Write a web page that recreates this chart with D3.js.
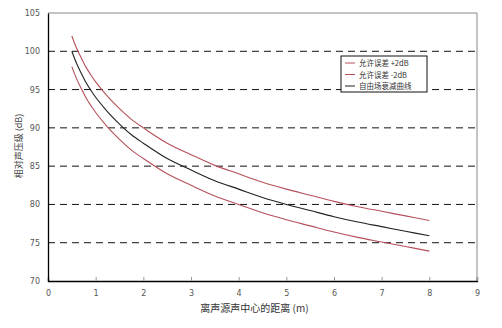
<!DOCTYPE html>
<html>
<head>
<meta charset="utf-8">
<script src="https://cdn.jsdelivr.net/npm/d3@7"></script>
<style>
  body { margin: 0; background: #fff; }
  svg { display: block; }
</style>
</head>
<body>
<div id="chart"></div>
<script>
// 距离 (m)
const distances = [0.5, 0.6, 0.7, 0.8, 0.9, 1, 1.25, 1.5, 1.75, 2, 2.5, 3, 3.5, 4, 4.5, 5, 5.5, 6, 6.5, 7, 7.5, 8];
// 自由场衰减曲线 (dB)
const freeField = [100.0, 98.4, 97.1, 95.9, 94.9, 94.0, 92.1, 90.5, 89.1, 88.0, 86.0, 84.5, 83.1, 82.0, 80.9, 80.0, 79.2, 78.4, 77.7, 77.1, 76.5, 75.9];
// 允许误差 +2dB
const upperLimit = [102.0, 100.4, 99.1, 97.9, 96.9, 96.0, 94.1, 92.5, 91.1, 90.0, 88.0, 86.5, 85.1, 84.0, 82.9, 82.0, 81.2, 80.4, 79.7, 79.1, 78.5, 77.9];
// 允许误差 -2dB
const lowerLimit = [98.0, 96.4, 95.1, 93.9, 92.9, 92.0, 90.1, 88.5, 87.1, 86.0, 84.0, 82.5, 81.1, 80.0, 78.9, 78.0, 77.2, 76.4, 75.7, 75.1, 74.5, 73.9];

const xTicks = [0, 1, 2, 3, 4, 5, 6, 7, 8, 9];
const yTicks = [70, 75, 80, 85, 90, 95, 100, 105];
const gridValues = [75, 80, 85, 90, 95, 100];

const seriesNames = ["允许误差 +2dB", "允许误差 -2dB", "自由场衰减曲线"];
const seriesColors = ["#b5505a", "#b5505a", "#222"];

const W = 502, H = 328;
const margin = {top: 13, right: 25, bottom: 47, left: 48};
const width = W - margin.left - margin.right;
const height = H - margin.top - margin.bottom;

const svg = d3.select("#chart").append("svg")
    .attr("width", W)
    .attr("height", H);

const g = svg.append("g")
    .attr("transform", `translate(${margin.left},${margin.top})`);

const x = d3.scaleLinear().domain([0, 9]).range([0, width]);
const y = d3.scaleLinear().domain([70, 105]).range([height, 0]);

// 网格线
g.selectAll("line.grid")
    .data(gridValues)
    .enter()
    .append("line")
    .attr("class", "grid")
    .attr("x1", 0)
    .attr("x2", width)
    .attr("y1", d => y(d))
    .attr("y2", d => y(d))
    .attr("stroke", "#111")
    .attr("stroke-width", 1)
    .attr("stroke-dasharray", "7,5");

// 上、右边框
g.append("line")
    .attr("x1", 0).attr("x2", width)
    .attr("y1", 0).attr("y2", 0)
    .attr("stroke", "#888");
g.append("line")
    .attr("x1", width).attr("x2", width)
    .attr("y1", 0).attr("y2", height)
    .attr("stroke", "#888");

// 坐标轴
const xAxis = g.append("g")
    .attr("transform", `translate(0,${height})`)
    .call(d3.axisBottom(x).tickValues(xTicks).tickSize(-4).tickPadding(9));
const yAxis = g.append("g")
    .call(d3.axisLeft(y).tickValues(yTicks).tickSize(0).tickPadding(8));

[xAxis, yAxis].forEach(ax => {
    ax.select(".domain").attr("stroke", "#000").attr("stroke-width", 1.3);
    ax.selectAll(".tick line").attr("stroke", "#999");
    ax.selectAll("text")
        .attr("fill", "#555")
        .style("font-family", "'DejaVu Sans', sans-serif")
        .style("font-size", "8px");
});

// 曲线
const lineGen = d3.line()
    .x(d => x(d[0]))
    .y(d => y(d[1]))
    .curve(d3.curveCatmullRom);

const allSeries = [upperLimit, lowerLimit, freeField];
allSeries.forEach((vals, i) => {
    g.append("path")
        .datum(distances.map((r, j) => [r, vals[j]]))
        .attr("fill", "none")
        .attr("stroke", seriesColors[i])
        .attr("stroke-width", 1.1)
        .attr("d", lineGen);
});

// 图例
const legend = svg.append("g").attr("transform", "translate(341,56)");
legend.append("rect")
    .attr("width", 86)
    .attr("height", 36)
    .attr("fill", "#fff")
    .attr("stroke", "#111")
    .attr("stroke-width", 1);
seriesNames.forEach((name, i) => {
    const cy = 7 + i * 11.5;
    legend.append("line")
        .attr("x1", 4).attr("x2", 14)
        .attr("y1", cy).attr("y2", cy)
        .attr("stroke", seriesColors[i])
        .attr("stroke-width", 1);
    legend.append("text")
        .attr("x", 18)
        .attr("y", cy + 3)
        .attr("fill", "#333")
        .style("font-family", "'Noto Sans CJK SC', sans-serif")
        .style("font-size", "7.5px")
        .text(name);
});

// 轴标题
svg.append("text")
    .attr("x", margin.left + width / 2 - 8)
    .attr("y", 312)
    .attr("text-anchor", "middle")
    .attr("fill", "#333")
    .style("font-family", "'Noto Sans CJK SC', sans-serif")
    .style("font-size", "10px")
    .text("离声源声中心的距离 (m)");

svg.append("text")
    .attr("transform", "translate(22,146) rotate(-90)")
    .attr("text-anchor", "middle")
    .attr("fill", "#444")
    .style("font-family", "'Noto Sans CJK SC', sans-serif")
    .style("font-size", "9px")
    .text("相对声压级 (dB)");
</script>
</body>
</html>
